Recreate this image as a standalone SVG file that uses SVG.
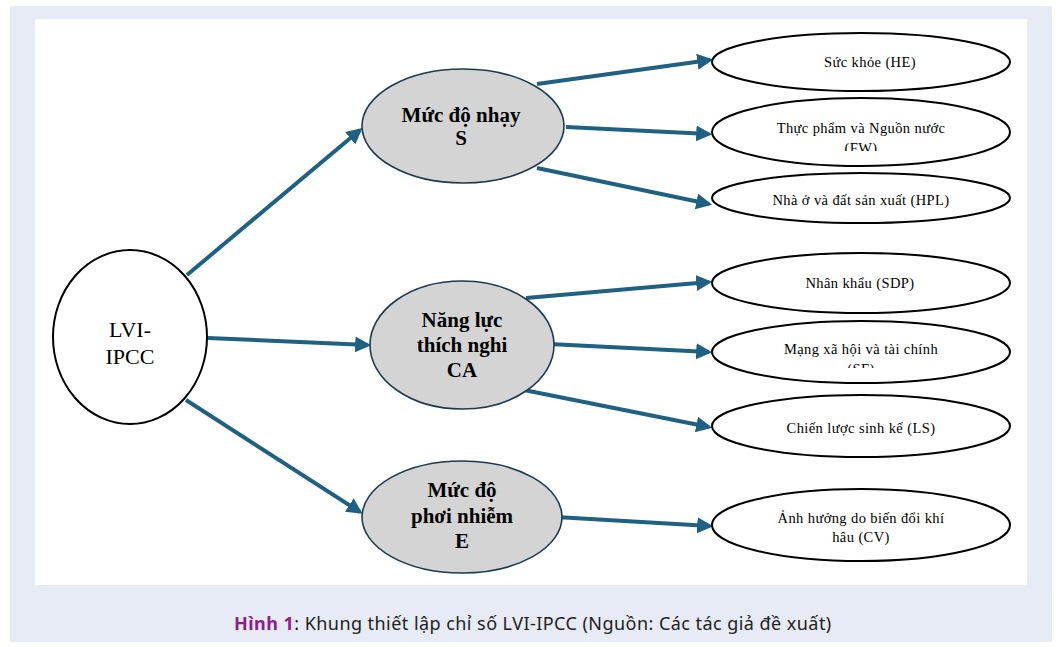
<svg xmlns="http://www.w3.org/2000/svg" width="1058" height="647" viewBox="0 0 1058 647">
<style>
.mid{fill:#d4d4d4;stroke:#1e3a4f;stroke-width:1.6}
.leaf{fill:#fff;stroke:#000;stroke-width:2}
.root{fill:#fff;stroke:#000;stroke-width:2}
.bt{font-family:"Liberation Serif",serif;font-weight:bold;font-size:21px;fill:#000;text-anchor:middle}
.lt{font-family:"Liberation Serif",serif;font-size:14.5px;letter-spacing:0.4px;fill:#000;text-anchor:middle}
.rt{font-family:"Liberation Serif",serif;font-size:22px;fill:#000;text-anchor:middle}
.conn{stroke:#1f6182;stroke-width:4;fill:none;marker-end:url(#ah)}
.cap{font-family:"Noto Sans",sans-serif;font-size:18px;letter-spacing:0.45px;fill:#222}
</style>
<defs>
<marker id="ah" markerWidth="4" markerHeight="4" refX="3.2" refY="2" orient="auto" markerUnits="strokeWidth">
<path d="M0,0 L4,2 L0,4 Z" fill="#1f6182"/>
</marker>
<clipPath id="cFW"><rect x="700" y="95" width="320" height="56"/></clipPath>
<clipPath id="cSF"><rect x="700" y="318" width="320" height="50"/></clipPath>
</defs>
<rect x="10" y="6" width="1042" height="636" fill="#e7ebf5"/>
<rect x="35" y="19" width="992" height="566" fill="#fff"/>
<g id="connectors">
<line class="conn" x1="187" y1="275" x2="360" y2="130"/>
<line class="conn" x1="208" y1="338" x2="368" y2="345"/>
<line class="conn" x1="186" y1="400" x2="360" y2="512"/>
<line class="conn" x1="537" y1="84" x2="710" y2="60"/>
<line class="conn" x1="566" y1="127" x2="709" y2="134"/>
<line class="conn" x1="537" y1="168" x2="709" y2="204"/>
<line class="conn" x1="526" y1="298" x2="709" y2="282"/>
<line class="conn" x1="549" y1="344" x2="709" y2="352"/>
<line class="conn" x1="524" y1="390" x2="709" y2="427"/>
<line class="conn" x1="556" y1="517" x2="710" y2="526"/>
</g>
<g id="lvi">
<ellipse class="root" cx="130" cy="337" rx="77" ry="87"/>
<text class="rt" x="130" y="337">LVI-</text>
<text class="rt" x="130" y="364">IPCC</text>
</g>
<g id="S">
<ellipse class="mid" cx="463" cy="126" rx="101" ry="57"/>
<text class="bt" x="461" y="122">Mức độ nhạy</text>
<text class="bt" x="461" y="145">S</text>
</g>
<g id="CA">
<ellipse class="mid" cx="462" cy="345" rx="92" ry="64"/>
<text class="bt" x="462" y="327">Năng lực</text>
<text class="bt" x="462" y="352">thích nghi</text>
<text class="bt" x="462" y="377">CA</text>
</g>
<g id="E">
<ellipse class="mid" cx="462" cy="517" rx="100" ry="56"/>
<text class="bt" x="462" y="497">Mức độ</text>
<text class="bt" x="462" y="523">phơi nhiễm</text>
<text class="bt" x="462" y="548">E</text>
</g>
<g id="HE">
<ellipse class="leaf" cx="861" cy="62" rx="149" ry="29"/>
<text class="lt" x="870" y="67">Sức khỏe (HE)</text>
</g>
<g id="FW">
<ellipse class="leaf" cx="861" cy="132" rx="149" ry="34"/>
<g clip-path="url(#cFW)">
<text class="lt" x="861" y="133">Thực phẩm và Nguồn nước</text>
<text class="lt" x="861" y="153">(FW)</text>
</g>
</g>
<g id="HPL">
<ellipse class="leaf" cx="861" cy="198" rx="149" ry="25"/>
<text class="lt" x="861" y="205">Nhà ở và đất sản xuất (HPL)</text>
</g>
<g id="SDP">
<ellipse class="leaf" cx="861" cy="283" rx="149" ry="30"/>
<text class="lt" x="860" y="288">Nhân khẩu (SDP)</text>
</g>
<g id="SF">
<ellipse class="leaf" cx="861" cy="352" rx="149" ry="31"/>
<g clip-path="url(#cSF)">
<text class="lt" x="861" y="354">Mạng xã hội và tài chính</text>
<text class="lt" x="861" y="374">(SF)</text>
</g>
</g>
<g id="LS">
<ellipse class="leaf" cx="861" cy="426" rx="149" ry="31"/>
<text class="lt" x="861" y="433">Chiến lược sinh kế (LS)</text>
</g>
<g id="CV">
<ellipse class="leaf" cx="861" cy="525" rx="149" ry="36"/>
<text class="lt" x="861" y="523">Ảnh hưởng do biến đổi khí</text>
<text class="lt" x="861" y="542">hâu (CV)</text>
</g>
<text class="cap" x="234" y="630"><tspan font-weight="bold" fill="#8e1f8c">Hình 1</tspan>: Khung thiết lập chỉ số LVI-IPCC (Nguồn: Các tác giả đề xuất)</text>
</svg>
